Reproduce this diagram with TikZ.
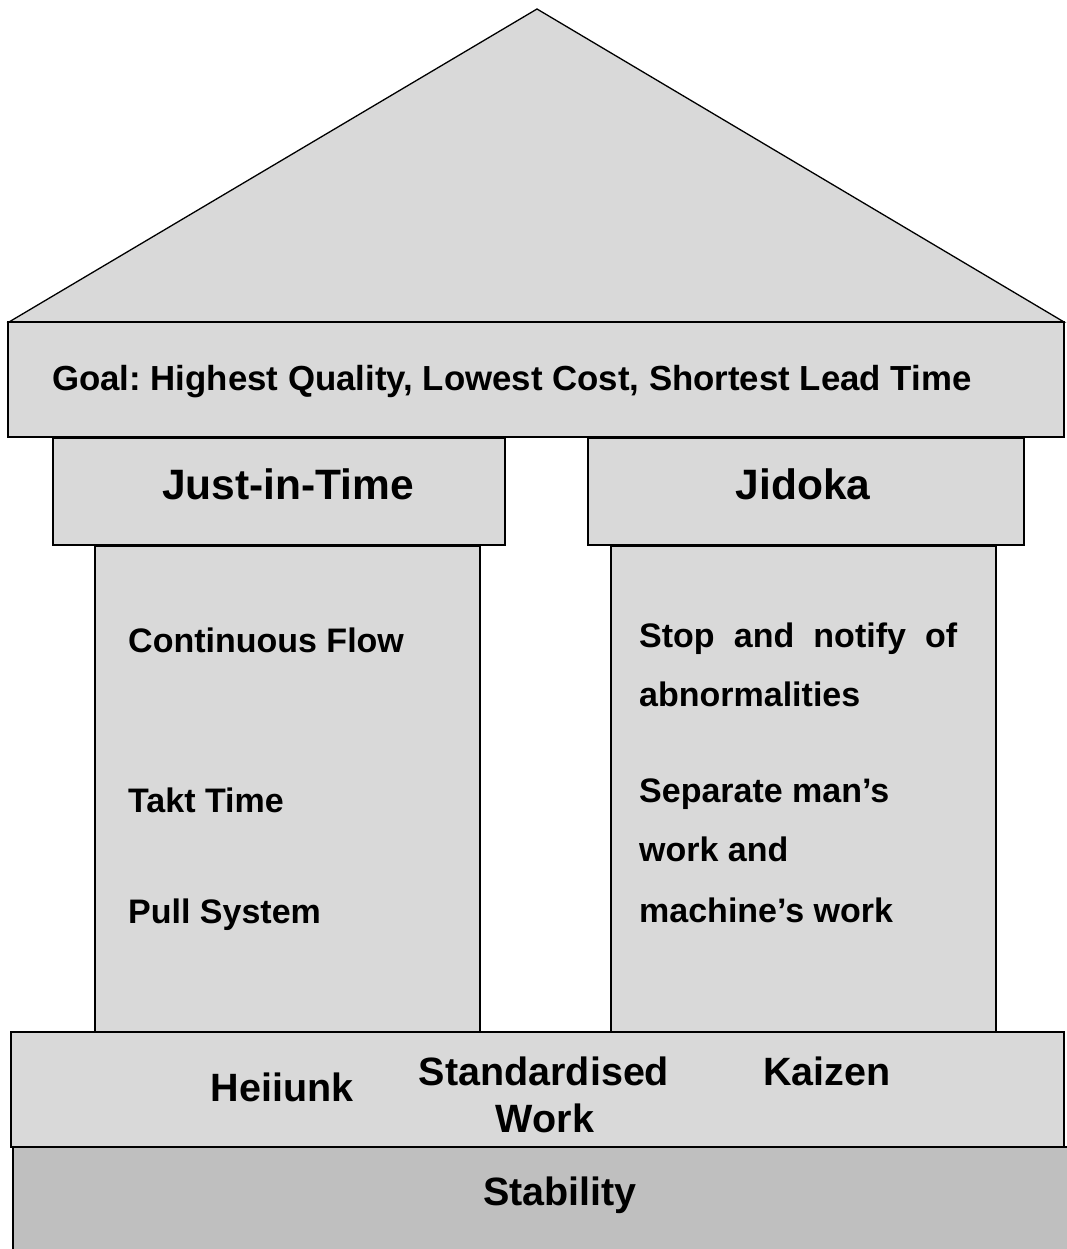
\documentclass[tikz,border=0pt]{standalone}
\usepackage{fontspec}
\setmainfont{Liberation Sans}[BoldFont={Liberation Sans Bold}]
\frenchspacing
\begin{document}
\begin{tikzpicture}[x=1pt,y=-1pt,
  part/.style={draw=black,line width=1.6pt,fill=lightgray},
  txt/.style={inner sep=0pt,anchor=base west,font=\bfseries\fontsize{34}{40}\selectfont},
  goaltxt/.style={inner sep=0pt,anchor=base west,font=\bfseries\fontsize{34.8}{40}\selectfont},
  head/.style={inner sep=0pt,anchor=base,font=\bfseries\fontsize{42.5}{48}\selectfont},
  basetxt/.style={inner sep=0pt,anchor=base,font=\bfseries\fontsize{39.5}{46}\selectfont}]
\definecolor{lightgray}{HTML}{D9D9D9}
\definecolor{darkgray}{HTML}{BFBFBF}
\useasboundingbox (0,0) rectangle (1066,1249);

% roof
\filldraw[fill=lightgray,draw=black,line width=1.3pt,line join=miter]
  (9,322) -- (537,9) -- (1064,322) -- cycle;

% goal beam
\draw[part] (8,322) rectangle (1064,437);
\node[goaltxt] (goal) at (52,390) {Goal: Highest Quality, Lowest Cost, Shortest Lead Time};

% pillar capitals
\draw[part] (53,438) rectangle (505,545);
\draw[part] (588,438) rectangle (1024,545);
\node[head] (jit) at (288,499) {Just-in-Time};
\node[head] (jidoka) at (803,499) {Jidoka};

% pillar shafts
\draw[part,line width=1.3pt] (95,546) rectangle (480,1032);
\draw[part,line width=1.3pt] (611,546) rectangle (996,1032);

% Just-in-Time items
\node[txt] (flow) at (128,652) {Continuous Flow};
\node[txt] (takt) at (128,812) {Takt Time};
\node[txt] (pull) at (128,923) {Pull System};

% Jidoka items
\node[txt] (stop1) at (639,647) {\makebox[318pt][s]{Stop and notify of}};
\node[txt] (stop2) at (639,706) {abnormalities};
\node[txt] (sep1) at (639,802) {Separate man’s};
\node[txt] (sep2) at (639,861) {work and};
\node[txt] (sep3) at (639,922) {machine’s work};

% foundation
\draw[part] (11,1032) rectangle (1064,1147);
\node[basetxt] (heij) at (282,1101) {Heiiunk};
\node[basetxt] (std1) at (544,1085) {Standardised};
\node[basetxt] (std2) at (545,1132) {Work};
\node[basetxt] (kaizen) at (827,1085) {Kaizen};

% stability base
\draw[draw=black,line width=1.6pt,fill=darkgray] (13,1147) rectangle (1070,1255);
\node[basetxt] (stab) at (560,1205) {Stability};
\end{tikzpicture}
\end{document}
